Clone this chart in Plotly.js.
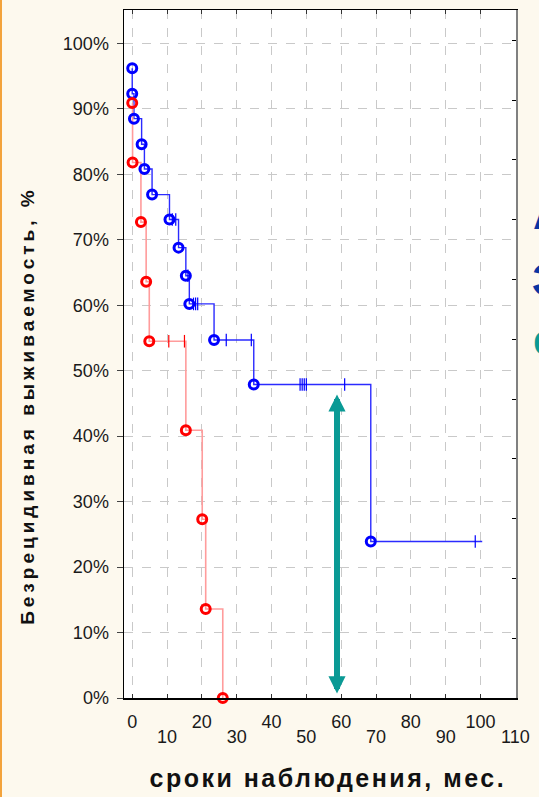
<!DOCTYPE html>
<html><head><meta charset="utf-8">
<script src="https://cdn.plot.ly/plotly-3.0.1.min.js"></script>
<style>
html,body{margin:0;padding:0;background:#fdf9ee;overflow:hidden;}
#edge{position:fixed;left:0;top:0;width:2px;height:797px;background:#f3a33c;z-index:10;}
#chart{width:539px;height:797px;}
.annotation[data-index="0"] text{letter-spacing:4px;}
.annotation[data-index="1"] text{letter-spacing:2.5px;}
</style>
</head><body><div id="edge"></div><div id="chart"></div>
<script>
// Blue group (Kaplan–Meier): event times (months) and survival (%)
const blueTimes    = [0, 0, 0.5, 2.7, 3.5, 5.7, 10.7, 13.3, 15.4, 16.4, 23.5, 34.9, 68.5];
const blueSurvival = [96.2, 92.3, 88.5, 84.6, 80.8, 76.9, 73.1, 68.8, 64.5, 60.2, 54.7, 47.9, 23.9];
const blueLastFollowUp = 100.5;
const blueCensTimes = [11.5, 12.5, 16.0, 17.6, 18.2, 18.8, 27.0, 34.2, 48.2, 48.8, 49.4, 50.0, 61.0, 98.5];
const blueCensSurv  = [73.1, 73.1, 64.5, 60.2, 60.2, 60.2, 54.7, 54.7, 47.9, 47.9, 47.9, 47.9, 47.9, 23.9];

// Red group
const redTimes    = [0, 0.1, 2.5, 4.0, 4.9, 15.4, 20.1, 21.1, 26.0];
const redSurvival = [90.9, 81.8, 72.7, 63.6, 54.5, 40.9, 27.3, 13.6, 0];
const redCensTimes = [10.5, 15.0];
const redCensSurv  = [54.5, 54.5];

// Axis ticks
const xEvenTicks = [0, 20, 40, 60, 80, 100];
const xOddTicks  = [10, 30, 50, 70, 90, 110];
const xAllTicks  = [0, 10, 20, 30, 40, 50, 60, 70, 80, 90, 100, 110];
const yTicks     = [0, 10, 20, 30, 40, 50, 60, 70, 80, 90, 100];
const yTickText  = ['0%', '10%', '20%', '30%', '40%', '50%', '60%', '70%', '80%', '90%', '100%'];

// Arrow (highlighting difference at ~60 months)
const arrowX = 58.8, arrowFrom = 0.7, arrowTo = 46.6;

const yTitle = 'Безрецидивная выживаемость, %';
const xTitle = 'сроки наблюдения, мес.';
const sideLetters = ['А', 'З', 'е'];

const BLUE = '#0000ff', BLUE_LINE = '#2b2bff', RED = '#ff0000', RED_LINE = '#ff9c9c', TEAL = '#0a9a95';
const FONT = '"Liberation Sans", Arial, sans-serif';

const traces = [
  {x: blueTimes.concat([blueLastFollowUp]), y: blueSurvival.concat([blueSurvival[blueSurvival.length-1]]),
   mode: 'lines', line: {shape: 'hv', color: BLUE_LINE, width: 1.4}, hoverinfo: 'skip'},
  {x: redTimes, y: redSurvival, mode: 'lines', line: {shape: 'hv', color: RED_LINE, width: 1.6}, hoverinfo: 'skip'},
  {x: blueCensTimes, y: blueCensSurv, mode: 'markers',
   marker: {symbol: 'line-ns-open', size: 9, color: BLUE, line: {color: BLUE, width: 1.2}}},
  {x: redCensTimes, y: redCensSurv, mode: 'markers',
   marker: {symbol: 'line-ns-open', size: 9, color: RED, line: {color: RED, width: 1.2}}},
  {x: blueTimes, y: blueSurvival, mode: 'markers', cliponaxis: false,
   marker: {symbol: 'circle-open', size: 9, color: BLUE, line: {color: BLUE, width: 3}}},
  {x: redTimes, y: redSurvival, mode: 'markers', cliponaxis: false,
   marker: {symbol: 'circle-open', size: 9, color: RED, line: {color: RED, width: 3}}},
  {x: [0], y: [null], xaxis: 'x2', yaxis: 'y', mode: 'markers', hoverinfo: 'skip'},
  {x: [0], y: [null], xaxis: 'x', yaxis: 'y2', mode: 'markers', hoverinfo: 'skip'}
];

const xRange = [-2.36, 110.2];
const layout = {
  width: 539, height: 797,
  margin: {l: 124, r: 23, t: 10, b: 99},
  paper_bgcolor: '#fdf9ee', plot_bgcolor: '#ffffff',
  showlegend: false,
  font: {family: FONT, color: '#1a1a1a', size: 18},
  xaxis: {
    range: xRange, tickvals: xAllTicks, ticktext: xAllTicks.map(v => xEvenTicks.includes(v) ? String(v) : ''),
    ticks: 'inside', ticklen: 4, tickcolor: '#333', tickwidth: 1,
    showline: true, linecolor: '#000', linewidth: 1.5, mirror: 'ticks',
    showgrid: true, gridcolor: '#c9c9c9', griddash: 'dash', gridwidth: 1,
    zeroline: false, ticklabelstandoff: 7, tickfont: {size: 18, color: '#1a1a1a'}
  },
  xaxis2: {
    overlaying: 'x', anchor: 'y', side: 'bottom', range: xRange, tickvals: xOddTicks,
    ticktext: xOddTicks.map(String), ticks: '', showline: false, showgrid: false, zeroline: false,
    ticklabelstandoff: 26, tickfont: {size: 18, color: '#1a1a1a'}
  },
  yaxis: {
    range: [0, 105.1], tickvals: yTicks, ticktext: yTickText,
    ticks: 'outside', ticklen: 6, tickcolor: '#444', tickwidth: 1,
    showline: true, linecolor: '#000', linewidth: 1.5,
    showgrid: true, gridcolor: '#c9c9c9', griddash: 'dash', gridwidth: 1,
    zeroline: false, ticklabelstandoff: 4, tickfont: {size: 18, color: '#1a1a1a'}
  },
  yaxis2: {
    overlaying: 'y', side: 'right', anchor: 'x', range: [0, 11.505], dtick: 1,
    ticks: 'inside', ticklen: 4, tickcolor: '#000', showticklabels: false,
    showline: true, linecolor: '#808080', linewidth: 2.2, showgrid: false, zeroline: false
  },
  annotations: [
    {text: yTitle, textangle: -90, xref: 'paper', yref: 'paper', x: -0.245, y: 0.426,
     xanchor: 'center', yanchor: 'middle', showarrow: false,
     font: {family: FONT, size: 19, color: '#111', weight: 'bold'}},
    {text: xTitle, xref: 'paper', yref: 'paper', x: 0.52, y: -0.116,
     xanchor: 'center', yanchor: 'middle', showarrow: false,
     font: {family: FONT, size: 25, color: '#111', weight: 'bold'}},
    {text: sideLetters[0], xref: 'paper', yref: 'paper', x: 1.038, y: 0.666, xanchor: 'left', yanchor: 'bottom',
     showarrow: false, font: {family: FONT, size: 44, color: '#0a35a3', weight: 'bold'}},
    {text: sideLetters[1], xref: 'paper', yref: 'paper', x: 1.036, y: 0.570, xanchor: 'left', yanchor: 'bottom',
     showarrow: false, font: {family: FONT, size: 44, color: '#0a35a3', weight: 'bold'}},
    {text: sideLetters[2], xref: 'paper', yref: 'paper', x: 1.038, y: 0.483, xanchor: 'left', yanchor: 'bottom',
     showarrow: false, font: {family: FONT, size: 44, color: TEAL, weight: 'bold'}},
    {text: '', x: arrowX, y: arrowFrom, ax: arrowX, ay: arrowTo, xref: 'x', yref: 'y', axref: 'x', ayref: 'y',
     showarrow: true, arrowside: 'end+start', arrowhead: 2, startarrowhead: 2,
     arrowsize: 0.57, startarrowsize: 0.57, arrowwidth: 6, arrowcolor: TEAL, standoff: 0, startstandoff: 0}
  ]
};

Plotly.newPlot('chart', traces, layout, {staticPlot: true, displayModeBar: false});
</script>
</body></html>
